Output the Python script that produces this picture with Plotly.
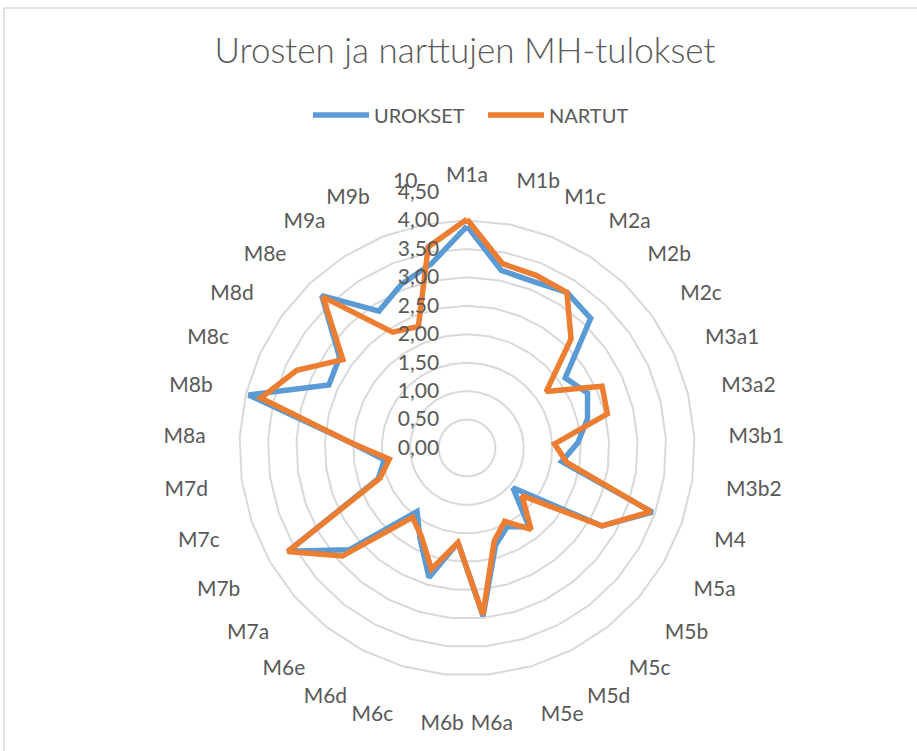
import plotly.graph_objects as go

categories = ["M1a", "M1b", "M1c", "M2a", "M2b", "M2c", "M3a1", "M3a2", "M3b1", "M3b2",
              "M4", "M5a", "M5b", "M5c", "M5d", "M5e", "M6a", "M6b", "M6c", "M6d",
              "M6e", "M7a", "M7b", "M7c", "M7d", "M8a", "M8b", "M8c", "M8d", "M8e",
              "M9a", "M9b", "10"]

urokset = [3.90, 3.18, 3.15, 3.25, 3.15, 2.12, 2.33, 2.18, 1.95, 1.68,
           3.45, 2.74, 1.07, 1.77, 1.55, 1.78, 2.97, 1.67, 2.37, 1.80,
           1.42, 2.73, 3.63, 1.65, 1.47, 2.05, 3.95, 2.67, 2.75, 3.70,
           2.86, 3.10, 3.30]

nartut = [4.02, 3.30, 3.27, 3.25, 2.65, 1.71, 2.61, 2.54, 1.54, 1.77,
          3.42, 2.74, 1.28, 1.82, 1.45, 1.70, 2.94, 1.67, 2.22, 1.75,
          1.55, 2.90, 3.64, 1.62, 1.38, 2.05, 3.73, 3.29, 2.68, 3.67,
          2.42, 2.30, 3.60]

radial_ticks = [0, 0.5, 1, 1.5, 2, 2.5, 3, 3.5, 4, 4.5]

FONT = "Lato"
TXT = "#595959"

fig = go.Figure()
fig.add_trace(go.Scatterpolar(
    r=urokset + urokset[:1], theta=categories + categories[:1],
    mode="lines", name="UROKSET",
    line=dict(color="#5B9BD5", width=5.5)))
fig.add_trace(go.Scatterpolar(
    r=nartut + nartut[:1], theta=categories + categories[:1],
    mode="lines", name="NARTUT",
    line=dict(color="#ED7D31", width=5.5)))

W, H = 917, 751
cx, cy, R = 467, 448, 256

fig.update_layout(
    width=W, height=H,
    margin=dict(l=0, r=0, t=0, b=0),
    paper_bgcolor="white",
    separators=", ",
    font=dict(family=FONT, color=TXT, size=21),
    title=dict(text="Urosten ja narttujen MH-tulokset",
               x=465 / W, xanchor="center", y=1 - 51 / H, yanchor="middle",
               font=dict(family=FONT, size=35, color=TXT, weight=300)),
    showlegend=True,
    legend=dict(orientation="h", x=308 / W, xanchor="left",
                y=1 - 115 / H, yanchor="middle",
                font=dict(family=FONT, size=20, color=TXT),
                itemwidth=56, entrywidth=104, traceorder="normal"),
    polar=dict(
        domain=dict(x=[(cx - R) / W, (cx + R) / W],
                    y=[1 - (cy + R) / H, 1 - (cy - R) / H]),
        bgcolor="white",
        gridshape="linear",
        radialaxis=dict(range=[0, 4.5], tickvals=radial_ticks, tickformat=".2f",
                        angle=90, tickangle=90, side="counterclockwise",
                        showline=False, ticks="outside", ticklen=20,
                        tickcolor="rgba(0,0,0,0)",
                        gridcolor="#D9D9D9", gridwidth=1.5,
                        tickfont=dict(family=FONT, size=21, color=TXT)),
        angularaxis=dict(type="category", categoryarray=categories,
                         direction="clockwise", rotation=90,
                         showgrid=False, showline=False,
                         ticks="outside", ticklen=1, tickcolor="rgba(0,0,0,0)",
                         tickfont=dict(family=FONT, size=21, color=TXT)),
    ),
    shapes=[dict(type="rect", xref="paper", yref="paper",
                 x0=4 / W, x1=1.05, y0=-0.05, y1=1 - 8 / H,
                 line=dict(color="#D9D9D9", width=1.5), fillcolor="rgba(0,0,0,0)",
                 layer="below")],
)

fig.write_html("out.html", config={"displayModeBar": False},
               post_script="document.body.style.margin='0';document.body.style.overflow='hidden';")
